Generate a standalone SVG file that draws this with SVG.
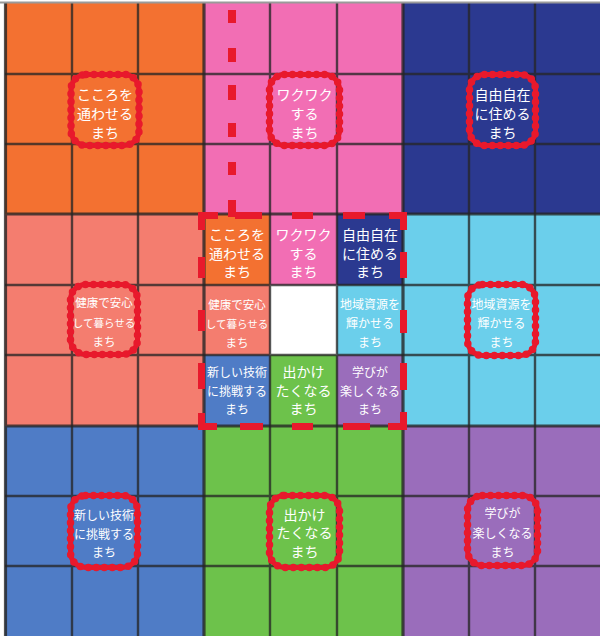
<svg xmlns="http://www.w3.org/2000/svg" width="600" height="636" viewBox="0 0 600 636">
<defs>
<style>
.grid{stroke:#262626;stroke-opacity:0.78;stroke-width:2.4;fill:none}
.bgrid{stroke:#262626;stroke-opacity:0.8;stroke-width:3.2;fill:none}
.t{font-family:"Noto Sans CJK JP","Noto Sans",sans-serif;fill:#ffffff;text-anchor:middle;font-weight:400}
.lb{fill:none;stroke:#E8192C;stroke-width:5}
.lbw{fill:none;stroke:#E8192C;stroke-width:7.5;stroke-dasharray:0 8;stroke-linecap:round}
.fr{stroke:#E8192C;stroke-width:7;fill:none;stroke-linecap:butt}
</style>
</defs>
<rect x="0" y="0" width="600" height="636" fill="#ffffff"/>

<g id="block-orange">
<rect x="5" y="3" width="199" height="211" fill="#F37131"/>
</g>
<g id="block-pink">
<rect x="204" y="3" width="199" height="211" fill="#F26EB4"/>
</g>
<g id="block-navy">
<rect x="403" y="3" width="197" height="211" fill="#2B3990"/>
</g>
<g id="block-salmon">
<rect x="5" y="214" width="199" height="212" fill="#F47D6F"/>
</g>
<g id="block-lightblue">
<rect x="403" y="214" width="197" height="212" fill="#6BCFEB"/>
</g>
<g id="block-blue">
<rect x="5" y="426" width="199" height="210" fill="#4F7CC6"/>
</g>
<g id="block-green">
<rect x="204" y="426" width="199" height="210" fill="#6DC24B"/>
</g>
<g id="block-purple">
<rect x="403" y="426" width="197" height="210" fill="#9A6DBB"/>
</g>

<g id="center-cells">
<rect x="204" y="214" width="66" height="71" fill="#F37131"/>
<rect x="270" y="214" width="67" height="71" fill="#F26EB4"/>
<rect x="337" y="214" width="66" height="71" fill="#2B3990"/>
<rect x="204" y="285" width="66" height="70" fill="#F47D6F"/>
<rect x="270" y="285" width="67" height="70" fill="#ffffff"/>
<rect x="337" y="285" width="66" height="70" fill="#6BCFEB"/>
<rect x="204" y="355" width="66" height="71" fill="#4F7CC6"/>
<rect x="270" y="355" width="67" height="71" fill="#6DC24B"/>
<rect x="337" y="355" width="66" height="71" fill="#9A6DBB"/>
</g>

<g id="grid">
<path class="grid" d="M72 3V636M138 3V636M270 3V636M337 3V636M469 3V636M535 3V636M5 74H600M5 144H600M5 285H600M5 355H600M5 496H600M5 566H600"/>
<path class="bgrid" d="M5.5 3V636M204 3V636M403 3V636M5 214H600M5 426H600"/>
<path d="M0 2.5H600" stroke="#9a9a9a" stroke-width="2"/>
</g>

<g id="center-frame">
<path class="fr" d="M201.5 230V215.5H218M235 215.5H262M292 215.5H313M343 215.5H365M389 215.5H403.5V230"/>
<path class="fr" d="M201.5 257V278M201.5 310V331M201.5 363V389"/>
<path class="fr" d="M403.5 252V278M403.5 310V333M403.5 363V390"/>
<path class="fr" d="M201.5 413V426.5H217M240 426.5H263M292 426.5H313M343 426.5H370M388 426.5H403.5V412"/>
<path d="M232 10V23M232 48V62M232 85V100M232 123V137M232 162V175M232 200V217" stroke="#E8192C" stroke-width="8" fill="none"/>
</g>

<g id="label-orange">
<rect class="lb" x="71" y="74.5" width="68" height="71" rx="15"/>
<rect class="lbw" x="71" y="74.5" width="68" height="71" rx="15"/>
<text class="t" font-size="14" x="105"><tspan x="105" y="99.5">こころを</tspan><tspan x="105" y="119">通わせる</tspan><tspan x="105" y="138">まち</tspan></text>
</g>
<g id="label-pink">
<rect class="lb" x="269.5" y="74.5" width="70" height="71" rx="15"/>
<rect class="lbw" x="269.5" y="74.5" width="70" height="71" rx="15"/>
<text class="t" font-size="14" x="304.5"><tspan x="304.5" y="99.5">ワクワク</tspan><tspan x="304.5" y="119">する</tspan><tspan x="304.5" y="138">まち</tspan></text>
</g>
<g id="label-navy">
<rect class="lb" x="469.5" y="74.5" width="66" height="71" rx="15"/>
<rect class="lbw" x="469.5" y="74.5" width="66" height="71" rx="15"/>
<text class="t" font-size="14" x="502.5"><tspan x="502.5" y="99.5">自由自在</tspan><tspan x="502.5" y="119">に住める</tspan><tspan x="502.5" y="138">まち</tspan></text>
</g>
<g id="label-salmon">
<rect class="lb" x="70.5" y="284.5" width="67" height="70" rx="15"/>
<rect class="lbw" x="70.5" y="284.5" width="67" height="70" rx="15"/>
<text class="t" x="104"><tspan x="104" y="307" font-size="11.5">健康で安心</tspan><tspan x="104" y="327" font-size="10.5">して暮らせる</tspan><tspan x="104" y="346" font-size="11.5">まち</tspan></text>
</g>
<g id="label-lightblue">
<rect class="lb" x="467.5" y="284.5" width="68" height="71" rx="15"/>
<rect class="lbw" x="467.5" y="284.5" width="68" height="71" rx="15"/>
<text class="t" font-size="12" x="501.5"><tspan x="501.5" y="309">地域資源を</tspan><tspan x="501.5" y="328">輝かせる</tspan><tspan x="501.5" y="347">まち</tspan></text>
</g>
<g id="label-blue">
<rect class="lb" x="70.5" y="495.5" width="67" height="72" rx="15"/>
<rect class="lbw" x="70.5" y="495.5" width="67" height="72" rx="15"/>
<text class="t" font-size="12" x="104"><tspan x="104" y="520">新しい技術</tspan><tspan x="104" y="539">に挑戦する</tspan><tspan x="104" y="557">まち</tspan></text>
</g>
<g id="label-green">
<rect class="lb" x="269.5" y="495.5" width="70" height="72" rx="15"/>
<rect class="lbw" x="269.5" y="495.5" width="70" height="72" rx="15"/>
<text class="t" font-size="14" x="304.5"><tspan x="304.5" y="519.5">出かけ</tspan><tspan x="304.5" y="538">たくなる</tspan><tspan x="304.5" y="556.5">まち</tspan></text>
</g>
<g id="label-purple">
<rect class="lb" x="467.5" y="495.5" width="70" height="70" rx="15"/>
<rect class="lbw" x="467.5" y="495.5" width="70" height="70" rx="15"/>
<text class="t" font-size="12" x="502.5"><tspan x="502.5" y="518">学びが</tspan><tspan x="502.5" y="538">楽しくなる</tspan><tspan x="502.5" y="556.5">まち</tspan></text>
</g>

<g id="center-texts">
<text class="t" font-size="14"><tspan x="237" y="240">こころを</tspan><tspan x="237" y="259">通わせる</tspan><tspan x="237" y="277">まち</tspan></text>
<text class="t" font-size="14"><tspan x="303.5" y="240">ワクワク</tspan><tspan x="303.5" y="259">する</tspan><tspan x="303.5" y="277">まち</tspan></text>
<text class="t" font-size="14"><tspan x="370" y="240">自由自在</tspan><tspan x="370" y="259">に住める</tspan><tspan x="370" y="277">まち</tspan></text>
<text class="t"><tspan x="237" y="309" font-size="11.5">健康で安心</tspan><tspan x="237" y="328" font-size="10.5">して暮らせる</tspan><tspan x="237" y="347" font-size="11.5">まち</tspan></text>
<text class="t" font-size="12"><tspan x="370" y="309">地域資源を</tspan><tspan x="370" y="328">輝かせる</tspan><tspan x="370" y="347">まち</tspan></text>
<text class="t" font-size="12"><tspan x="237" y="377">新しい技術</tspan><tspan x="237" y="396">に挑戦する</tspan><tspan x="237" y="414">まち</tspan></text>
<text class="t" font-size="14"><tspan x="303.5" y="377">出かけ</tspan><tspan x="303.5" y="396">たくなる</tspan><tspan x="303.5" y="414">まち</tspan></text>
<text class="t" font-size="12"><tspan x="370" y="377">学びが</tspan><tspan x="370" y="396">楽しくなる</tspan><tspan x="370" y="414">まち</tspan></text>
</g>
</svg>
